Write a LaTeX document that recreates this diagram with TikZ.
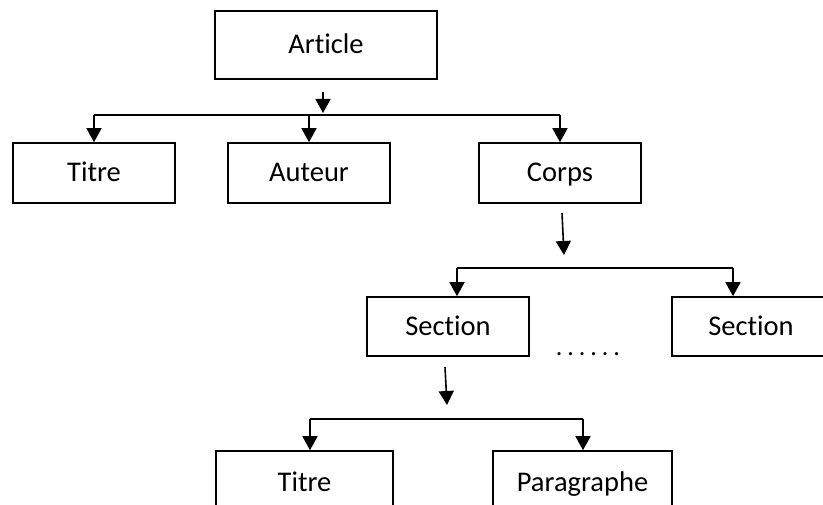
\documentclass[tikz,border=0pt]{standalone}
\usepackage{fontspec}
\setmainfont{Carlito}[Ligatures=NoCommon]
\usetikzlibrary{arrows.meta}
\begin{document}
\begin{tikzpicture}[x=1pt,y=-1pt,
  box/.style={draw,line width=1.6pt,inner sep=0pt,
    font=\fontsize{28.5}{32}\selectfont,text height=18pt,text depth=0pt},
  link/.style={line width=1.6pt},
  arr/.style={link,-{Triangle[length=14pt,width=15pt]}}]
\useasboundingbox (0,0) rectangle (823,505);

% boxes
\node[box,minimum width=222pt,minimum height=68pt] (article) at (326,45) {Article};
\node[box,minimum width=162pt,minimum height=60pt] (titre)   at (94,173)  {Titre};
\node[box,minimum width=162pt,minimum height=60pt] (auteur)  at (309,173) {Auteur};
\node[box,minimum width=162pt,minimum height=60pt] (corps)   at (560,173) {Corps};
\node[box,minimum width=162pt,minimum height=59pt] (sec1)    at (448,326.5) {Section};
\node[box,minimum width=158pt,minimum height=59pt] (sec2)    at (751,326.5) {Section};
\node[box,minimum width=177pt,minimum height=62pt] (titre2)  at (304.5,482) {Titre};
\node[box,minimum width=179pt,minimum height=62pt] (para)    at (582.5,482) {Paragraphe};
\node[anchor=base,inner sep=0pt,font=\fontsize{26}{30}\selectfont\addfontfeature{LetterSpace=19}] (dots) at (588,356) {......};

% stand-alone down arrows
\coordinate (a1s) at (323,92);  \coordinate (a1e) at (323,113);
\coordinate (a2s) at (562,213); \coordinate (a2e) at (564,255);
\coordinate (a3s) at (445,367); \coordinate (a3e) at (447,405);
\draw[arr] (a1s) -- (a1e);
\draw[arr] (a2s) -- (a2e);
\draw[arr] (a3s) -- (a3e);

% first level branch
\coordinate (b1) at (0,115);
\draw[link] (titre.north |- b1) -- (corps.north |- b1);
\draw[arr] (titre.north |- b1) -- (titre.north);
\draw[arr] (auteur.north |- b1) -- (auteur.north);
\draw[arr] (corps.north |- b1) -- (corps.north);

% section branch
\coordinate (b2l) at (457,268);
\coordinate (b2r) at (733,268);
\draw[link] (b2l) -- (b2r);
\draw[arr] (b2l) -- (b2l |- sec1.north);
\draw[arr] (b2r) -- (b2r |- sec2.north);

% titre / paragraphe branch
\coordinate (b3l) at (310,419);
\coordinate (b3r) at (583,419);
\draw[link] (b3l) -- (b3r);
\draw[arr] (b3l) -- (b3l |- titre2.north);
\draw[arr] (b3r) -- (b3r |- para.north);
\end{tikzpicture}
\end{document}
